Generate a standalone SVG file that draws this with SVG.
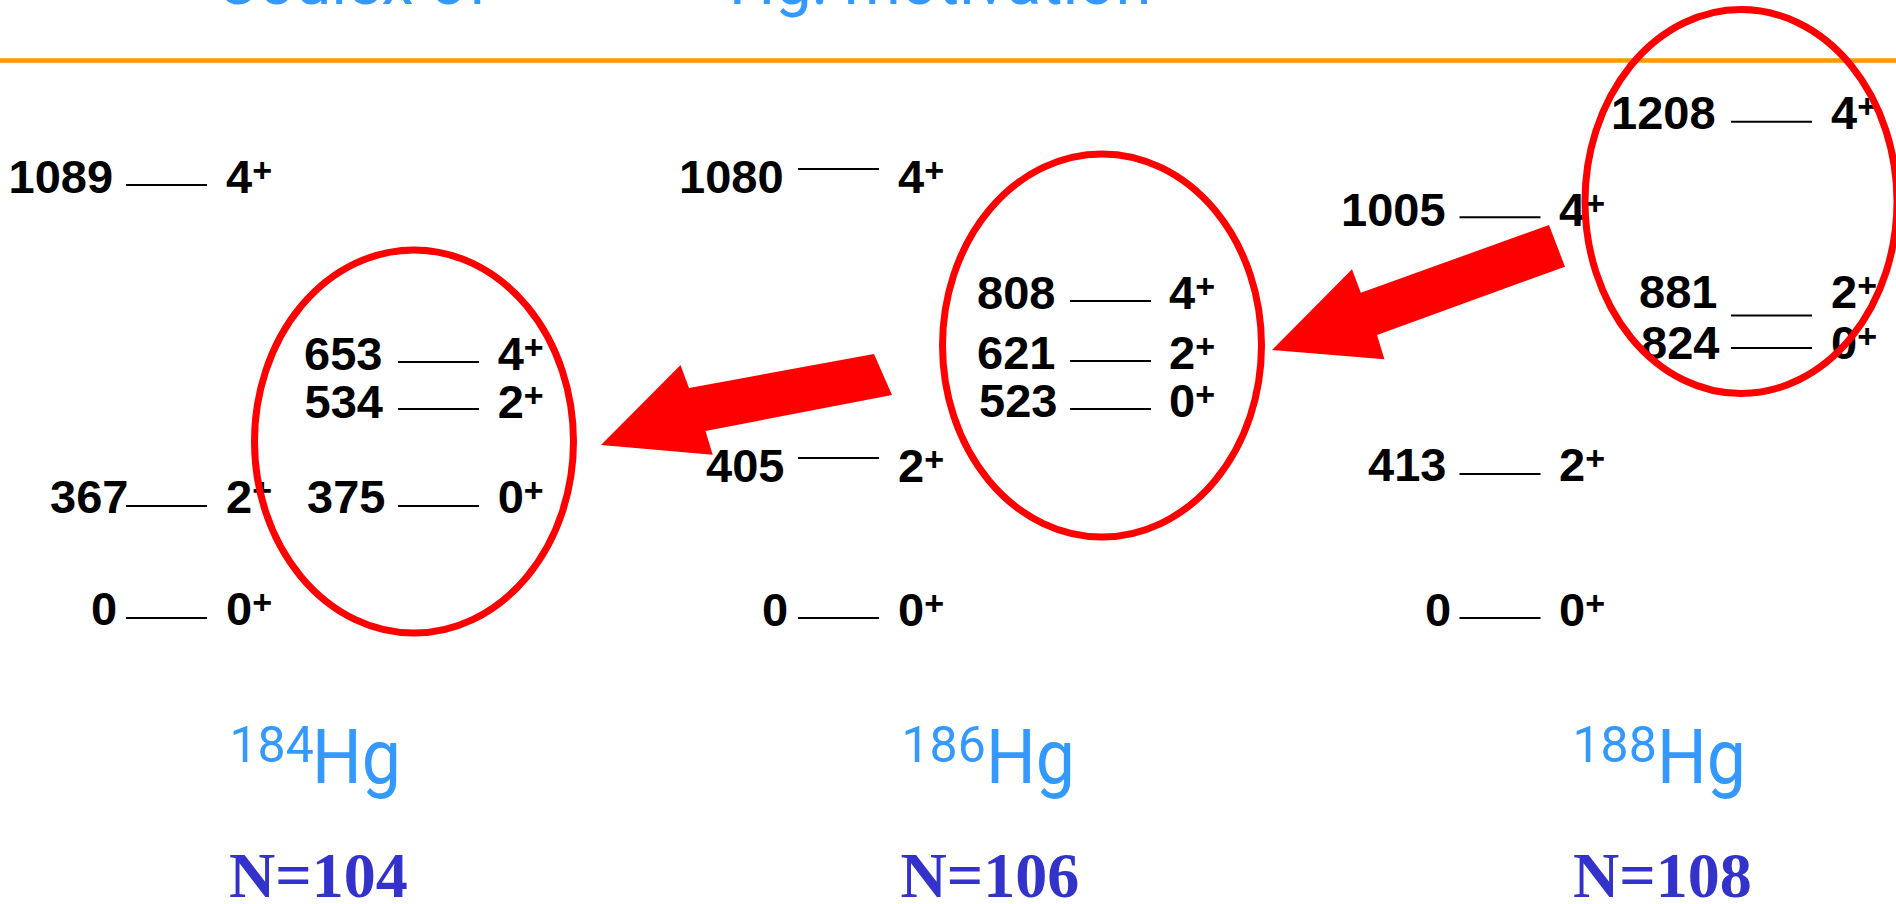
<svg xmlns="http://www.w3.org/2000/svg" width="1896" height="904" viewBox="0 0 1896 904">
<defs>
<style>
.t{font-family:"Liberation Sans",Arial,sans-serif;font-weight:bold;font-size:47px;fill:#000}
.p{font-size:34px}
.lv{stroke:#000;stroke-width:2}
.ring{fill:none;stroke:#FF0000;stroke-width:7}
.title{font-family:Roboto,"Open Sans",sans-serif;font-size:65px;fill:#3399FF}
.iso{font-family:Roboto,"Open Sans",sans-serif;fill:#3399FF}
.n{font-family:"Liberation Serif","Times New Roman",serif;font-weight:bold;font-size:64px;fill:#3333CC}
.arr{fill:#FF0000}
</style>
</defs>
<rect width="1896" height="904" fill="#FFFFFF"/>

<g id="title">
<text class="title" x="216" y="4" font-size="61">Coulex of</text>
<text class="title" x="729" y="4">Hg: motivation</text>
<line x1="0" y1="60.5" x2="1896" y2="60.5" stroke="#FF9900" stroke-width="4.5"/>
</g>

<g id="hg184">
<text class="t" x="8.6" y="193">1089</text><line class="lv" x1="126" y1="185" x2="207" y2="185"/><text class="t" x="226" y="193">4<tspan class="p" dy="-11">+</tspan></text>
<text class="t" x="50" y="513">367</text><line class="lv" x1="126" y1="506" x2="207" y2="506"/><text class="t" x="226" y="513">2<tspan class="p" dy="-11">+</tspan></text>
<text class="t" x="91" y="625">0</text><line class="lv" x1="126" y1="618" x2="207" y2="618"/><text class="t" x="226" y="625">0<tspan class="p" dy="-11">+</tspan></text>
<text class="t" x="304" y="370">653</text><line class="lv" x1="398" y1="362" x2="479" y2="362"/><text class="t" x="497.7" y="370">4<tspan class="p" dy="-11">+</tspan></text>
<text class="t" x="304.5" y="418">534</text><line class="lv" x1="398" y1="409" x2="479" y2="409"/><text class="t" x="497.7" y="418">2<tspan class="p" dy="-11">+</tspan></text>
<text class="t" x="307" y="513">375</text><line class="lv" x1="398" y1="506" x2="479" y2="506"/><text class="t" x="497.7" y="513">0<tspan class="p" dy="-11">+</tspan></text>
<text class="iso" x="229.5" y="761.7" font-size="50">184</text>
<text class="iso" x="312" y="783.3" font-size="76" textLength="89" lengthAdjust="spacingAndGlyphs">Hg</text>
<text class="n" x="229" y="897">N=104</text>
</g>

<g id="hg186">
<text class="t" x="679" y="193">1080</text><line class="lv" x1="798" y1="169" x2="879" y2="169"/><text class="t" x="898" y="193">4<tspan class="p" dy="-11">+</tspan></text>
<text class="t" x="706" y="482">405</text><line class="lv" x1="798" y1="458" x2="879" y2="458"/><text class="t" x="898" y="482">2<tspan class="p" dy="-11">+</tspan></text>
<text class="t" x="762" y="626">0</text><line class="lv" x1="798" y1="618" x2="879" y2="618"/><text class="t" x="898" y="626">0<tspan class="p" dy="-11">+</tspan></text>
<text class="t" x="977" y="309">808</text><line class="lv" x1="1070" y1="301" x2="1151" y2="301"/><text class="t" x="1169" y="309">4<tspan class="p" dy="-11">+</tspan></text>
<text class="t" x="977" y="369">621</text><line class="lv" x1="1070" y1="361" x2="1151" y2="361"/><text class="t" x="1169" y="369">2<tspan class="p" dy="-11">+</tspan></text>
<text class="t" x="979" y="417">523</text><line class="lv" x1="1070" y1="409" x2="1151" y2="409"/><text class="t" x="1169" y="417">0<tspan class="p" dy="-11">+</tspan></text>
<text class="iso" x="901.5" y="761.7" font-size="50">186</text>
<text class="iso" x="986" y="783.3" font-size="76" textLength="89" lengthAdjust="spacingAndGlyphs">Hg</text>
<text class="n" x="900.5" y="897">N=106</text>
</g>

<g id="hg188">
<text class="t" x="1341" y="226">1005</text><line class="lv" x1="1459.5" y1="217.3" x2="1540.5" y2="217.3"/><text class="t" x="1559" y="226">4<tspan class="p" dy="-11">+</tspan></text>
<text class="t" x="1368" y="481">413</text><line class="lv" x1="1459.5" y1="474" x2="1540.5" y2="474"/><text class="t" x="1559" y="481">2<tspan class="p" dy="-11">+</tspan></text>
<text class="t" x="1425" y="626">0</text><line class="lv" x1="1459.5" y1="618" x2="1540.5" y2="618"/><text class="t" x="1559" y="626">0<tspan class="p" dy="-11">+</tspan></text>
<text class="t" x="1611" y="129">1208</text><line class="lv" x1="1731" y1="121.7" x2="1812" y2="121.7"/><text class="t" x="1831" y="129">4<tspan class="p" dy="-11">+</tspan></text>
<text class="t" x="1639" y="307.5">881</text><line class="lv" x1="1731" y1="315.6" x2="1812" y2="315.6"/><text class="t" x="1831" y="307.5">2<tspan class="p" dy="-11">+</tspan></text>
<text class="t" x="1641" y="358.5">824</text><line class="lv" x1="1731" y1="348" x2="1812" y2="348"/><text class="t" x="1831" y="358.5">0<tspan class="p" dy="-11">+</tspan></text>
<text class="iso" x="1572.5" y="761.7" font-size="50">188</text>
<text class="iso" x="1657" y="783.3" font-size="76" textLength="89" lengthAdjust="spacingAndGlyphs">Hg</text>
<text class="n" x="1573" y="897">N=108</text>
</g>

<g id="rings">
<ellipse id="ring184" class="ring" cx="414" cy="441.5" rx="159.5" ry="191.5"/>
<ellipse id="ring186" class="ring" cx="1102" cy="345.5" rx="159.5" ry="191.5"/>
<ellipse id="ring188" class="ring" cx="1741" cy="201.5" rx="156" ry="192"/>
</g>

<g id="connectors">
<path id="arrow186to184" class="arr" d="M601,445 L680.5,365 L689,388 L874,354 L892,395 L705.5,431 L712.7,454.7 Z"/>
<path id="arrow188to186" class="arr" d="M1272,350 L1352,269.3 L1360.8,292.7 L1549,225 L1565,266.7 L1377,335 L1384.4,359.3 Z"/>
</g>
</svg>
